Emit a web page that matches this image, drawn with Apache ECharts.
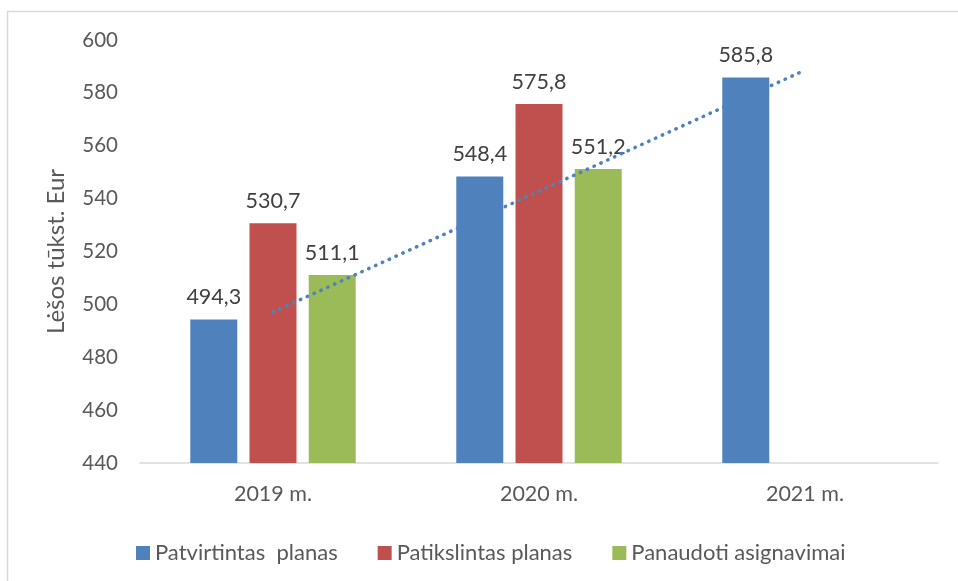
<!DOCTYPE html>
<html>
<head>
<meta charset="utf-8">
<script src="https://cdn.jsdelivr.net/npm/echarts@6/dist/echarts.min.js"></script>
<style>
  html, body { margin: 0; padding: 0; background: #fff; }
  #chart { width: 958px; height: 581px; }
</style>
</head>
<body>
<div id="chart"></div>
<script>
// metai
var years = ['2019 m.', '2020 m.', '2021 m.'];
var seriesNames = ['Patvirtintas  planas', 'Patikslintas planas', 'Panaudoti asignavimai'];
var patvirtintas = [494.3, 548.4, 585.8];
var patikslintas = [530.7, 575.8, null];
var panaudoti = [511.1, 551.2, null];
// trend line
var trendas = [497.1, 542.8, 588.6];
var yTicks = [440, 600, 20];

var fmt = function(p){
    return String(p.value).replace('.', ',');
};

var barLabel = {
    show: true,
    position: 'top',
    distance: 11,
    fontSize: 21.5,
    color: '#404040',
    fontFamily: 'Lato',
    formatter: fmt
};

var chart = echarts.init(document.getElementById('chart'));
var option = {
    animation: false,
    textStyle: { fontFamily: 'Lato' },
    graphic: [{
        type: 'rect',
        shape: { x: 7.5, y: 11.5, width: 980, height: 600 },
        style: { fill: 'none', stroke: '#d9d9d9', lineWidth: 1.5 },
        silent: true
    }],
    grid: { left: 140, right: 20, top: 40, bottom: 118 },
    legend: {
        data: seriesNames,
        left: 131,
        top: 537,
        itemWidth: 14,
        itemHeight: 14,
        itemGap: 40,
        icon: 'rect',
        textStyle: { fontSize: 22, color: '#595959', fontFamily: 'Lato' }
    },
    xAxis: {
        type: 'category',
        data: years,
        axisLine: { lineStyle: { color: '#d9d9d9', width: 1.5 } },
        axisTick: { show: false },
        axisLabel: { fontSize: 21.5, color: '#595959', margin: 20 }
    },
    yAxis: {
        type: 'value',
        min: yTicks[0],
        max: yTicks[1],
        interval: yTicks[2],
        name: 'Lėšos tūkst. Eur',
        nameLocation: 'middle',
        nameGap: 72,
        nameTextStyle: { fontSize: 24, color: '#595959' },
        splitLine: { show: false },
        axisLine: { show: false },
        axisTick: { show: false },
        axisLabel: { fontSize: 20.5, color: '#595959', margin: 22 }
    },
    series: [
        {
            name: seriesNames[0], type: 'bar', data: patvirtintas,
            barWidth: 47, barGap: '26%',
            itemStyle: { color: '#4f81bd' },
            label: barLabel
        },
        {
            name: seriesNames[1], type: 'bar', data: patikslintas,
            barWidth: 47, barGap: '26%',
            itemStyle: { color: '#c0504d' },
            label: barLabel
        },
        {
            name: seriesNames[2], type: 'bar', data: panaudoti,
            barWidth: 47, barGap: '26%',
            itemStyle: { color: '#9bbb59' },
            label: barLabel
        },
        {
            name: 'trend', type: 'line', data: trendas,
            symbol: 'none', silent: true, z: 5,
            lineStyle: { color: '#4f81bd', width: 3.5, type: [0.5, 7], cap: 'round' }
        }
    ]
};
chart.setOption(option);
</script>
</body>
</html>
